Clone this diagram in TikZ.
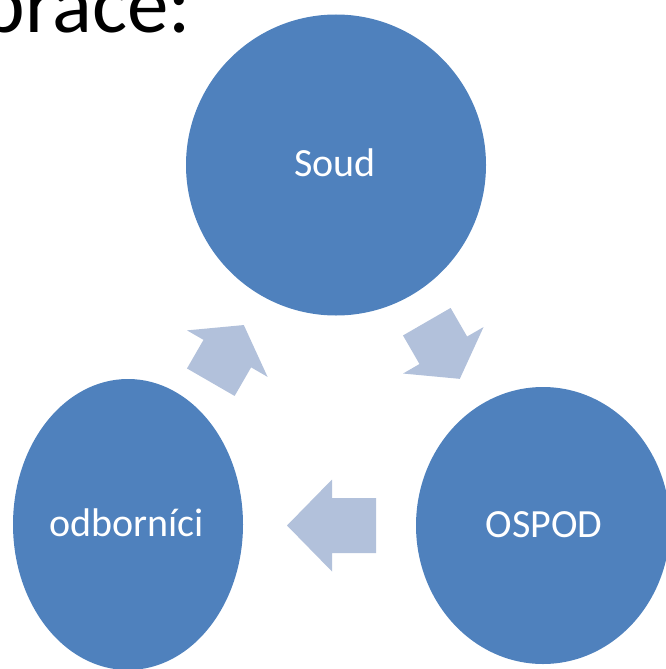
\documentclass[tikz,border=0pt]{standalone}
\usepackage{fontspec}
\setmainfont{Carlito}
\usetikzlibrary{shapes.geometric}
\definecolor{circblue}{HTML}{4F81BD}
\definecolor{arrblue}{HTML}{B2C1DB}
\tikzset{
  circ/.style={ellipse, fill=circblue, draw=none, inner sep=0pt},
  lbl/.style={anchor=base, text=white, inner sep=0pt, font=\fontsize{40}{48}\selectfont},
  title/.style={anchor=base east, inner sep=0pt, font=\fontsize{83}{100}\selectfont},
  arr/.style={fill=arrblue, draw=none}
}
\begin{document}
\begin{tikzpicture}[x=1pt,y=-1pt]
\useasboundingbox (0,0) rectangle (666,669);
\node[title] (ttl) at (191,33) {práce:};
% circles
\node[circ, minimum width=300pt, minimum height=301pt] (soud) at (336,165) {};
\node[circ, minimum width=230pt, minimum height=291pt] (odb) at (128,524.5) {};
\node[circ, minimum width=254pt, minimum height=277pt] (ospod) at (543,525.5) {};
% labels
\node[lbl] (soudT) at (335,176) {Soud};
\node[lbl] (odbT) at (126.5,536) {odborníci};
\node[lbl] (ospodT) at (544,537) {OSPOD};
% arrows
\begin{scope}[shift={(210.8,382.2)}, rotate=60]
  \fill[arr] (0,27.5) -- (33,27.5) -- (33,46.5) -- (66,0) -- (33,-46.5) -- (33,-27.5) -- (0,-27.5) -- cycle;
\end{scope}
\begin{scope}[shift={(426.8,321.7)}, rotate=-60]
  \fill[arr] (0,27.5) -- (33,27.5) -- (33,46.5) -- (66,0) -- (33,-46.5) -- (33,-27.5) -- (0,-27.5) -- cycle;
\end{scope}
\begin{scope}[shift={(376,525.5)}, rotate=180]
  \fill[arr] (0,27.5) -- (44,27.5) -- (44,46) -- (89,0) -- (44,-46) -- (44,-27.5) -- (0,-27.5) -- cycle;
\end{scope}
\end{tikzpicture}
\end{document}
